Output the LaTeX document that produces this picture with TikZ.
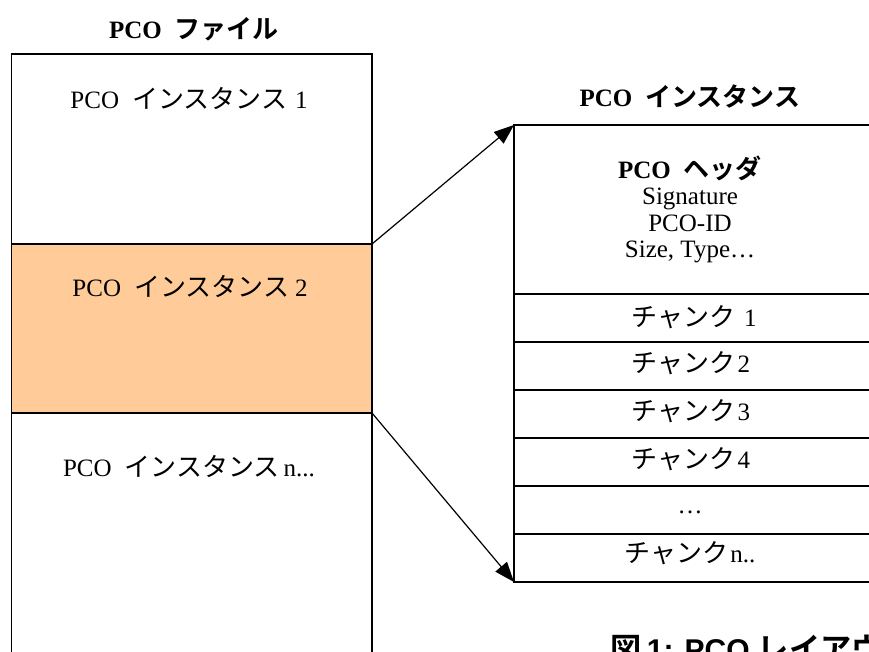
\documentclass[tikz,border=0pt]{standalone}
\usepackage{fontspec}
\setmainfont{Liberation Serif}
\newfontfamily\jpf{Noto Sans CJK JP}[Scale=1.04,BoldFont={Noto Sans CJK JP Bold}]
\newfontfamily\capf{Liberation Sans}
\newcommand\J[1]{{\jpf #1}}
\newcommand\gap{\hspace{13pt}}
\usetikzlibrary{arrows.meta}
\definecolor{pcotan}{HTML}{FFCC99}
\begin{document}
\begin{tikzpicture}[x=1pt,y=-1pt,line width=1.3pt,
  sec/.style={draw,outer sep=0pt,inner sep=0pt,minimum width=360.5pt},
  row/.style={draw,outer sep=0pt,inner sep=0pt,minimum width=386pt},
  txt/.style={font=\fontsize{25}{27}\selectfont,inner sep=0pt,anchor=base},
  ttl/.style={txt,font=\fontsize{25}{27}\selectfont\bfseries},
  arr/.style={-{Triangle[length=20pt,width=15pt]},line width=1.2pt}]
\useasboundingbox (0,0) rectangle (869,652);
\clip (0,0) rectangle (869,652);
% left file box
\node[sec,minimum height=190pt] (s1) at (191.75,149) {};
\node[sec,minimum height=169pt,fill=pcotan] (s2) at (191.75,328.5) {};
\node[sec,minimum height=307pt] (s3) at (191.75,566.5) {};
% right instance box
\node[row,minimum height=169pt] (hdr) at (707,209.5) {};
\node[row,minimum height=48pt] (c1) at (707,318) {};
\node[row,minimum height=48pt] (c2) at (707,366) {};
\node[row,minimum height=48pt] (c3) at (707,414) {};
\node[row,minimum height=48pt] (c4) at (707,462) {};
\node[row,minimum height=48pt] (c5) at (707,510) {};
\node[row,minimum height=48pt] (cn) at (707,558) {};
% titles
\node[ttl] (t1) at (194,39) {PCO\gap\J{ファイル}};
\node[ttl] (t2) at (690,107) {PCO\gap\J{インスタンス}};
% left texts
\node[txt] (l1) at (189,109) {PCO\gap\J{インスタンス}\hspace{8pt}1};
\node[txt] (l2) at (190,296) {PCO\gap\J{インスタンス}\hspace{6pt}2};
\node[txt] (l3) at (189,476) {PCO\gap\J{インスタンス}\hspace{4pt}n...};
% header texts
\node[ttl] (h1) at (690,179) {PCO\gap\J{ヘッダ}};
\node[txt] (h2) at (690,205) {Signature};
\node[txt] (h3) at (690,232) {PCO-ID};
\node[txt] (h4) at (690,258) {Size, Type…};
% chunk texts
\node[txt] (k1) at (694,326) {\J{チャンク}\hspace{9pt}1};
\node[txt] (k2) at (691,372) {\J{チャンク}\hspace{2pt}2};
\node[txt] (k3) at (691,420) {\J{チャンク}\hspace{2pt}3};
\node[txt] (k4) at (691,468) {\J{チャンク}\hspace{2pt}4};
\node[txt] (k5) at (690,513) {…};
\node[txt] (kn) at (690,562) {\J{チャンク}\hspace{2pt}n..};
% caption
\node[inner sep=0pt,anchor=base west,font=\fontsize{30}{34}\selectfont\bfseries\capf] (cap) at (610,660) {\J{図}\,1: PCO \J{レイアウト}};
% connectors
\draw[arr] (s2.north east) -- (hdr.north west);
\draw[arr] (s3.north east) -- (cn.south west);
\end{tikzpicture}
\end{document}
